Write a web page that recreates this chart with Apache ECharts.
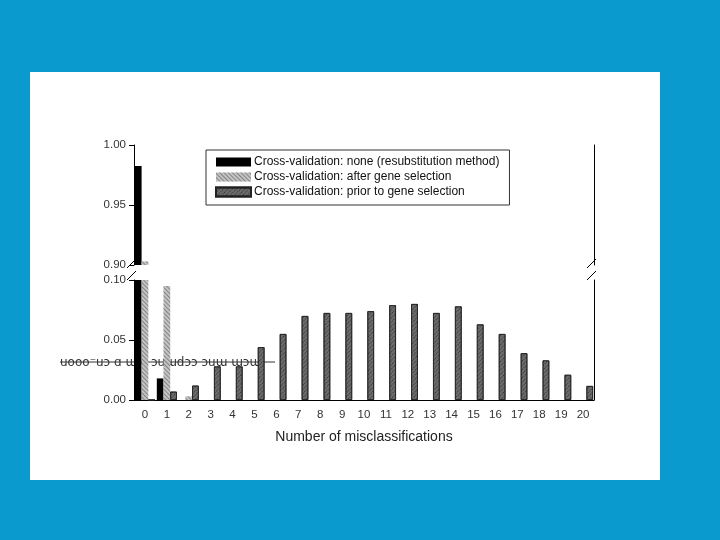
<!DOCTYPE html>
<html>
<head>
<meta charset="utf-8">
<script src="https://cdn.jsdelivr.net/npm/echarts@6/dist/echarts.min.js"></script>
<style>
  html, body { margin: 0; padding: 0; background: #0a9acd; }
  #chart { width: 720px; height: 540px; }
</style>
</head>
<body>
<div id="chart"></div>
<script>
  // number of misclassifications 0..20
  const categories = ['0','1','2','3','4','5','6','7','8','9','10','11','12','13','14','15','16','17','18','19','20'];
  const seriesNames = [
    'Cross-validation: none (resubstitution method)',
    'Cross-validation: after gene selection',
    'Cross-validation: prior to gene selection'
  ];
  const noneCV = [0.9825, 0.018, 0, 0, 0, 0, 0, 0, 0, 0, 0, 0, 0, 0, 0, 0, 0, 0, 0, 0, 0];
  const afterSel = [0.903, 0.095, 0.003, 0, 0, 0, 0, 0, 0, 0, 0, 0, 0, 0, 0, 0, 0, 0, 0, 0, 0];
  const priorSel = [0, 0.007, 0.012, 0.028, 0.028, 0.044, 0.055, 0.070, 0.0725, 0.0725, 0.074, 0.079, 0.080, 0.0725, 0.078, 0.063, 0.055, 0.039, 0.033, 0.021, 0.0117];
  const topTicks = [0.90, 0.95, 1.00];
  const bottomTicks = [0.00, 0.05, 0.10];

  const chart = echarts.init(document.getElementById('chart'));

  const styles = [
    { color: '#000' },
    { color: '#c4c4c4', decal: { symbol: 'rect', symbolSize: 1, dashArrayX: [1, 0], dashArrayY: [1, 2], rotation: Math.PI / 4, color: 'rgba(90,90,90,0.6)' } },
    { color: '#6c6c6c', borderColor: '#222', borderWidth: 0.8, decal: { symbol: 'rect', symbolSize: 1, dashArrayX: [1, 1], dashArrayY: [1, 2], rotation: -Math.PI / 4, color: 'rgba(0,0,0,0.55)' } }
  ];
  const allData = [noneCV, afterSel, priorSel];

  const series = [];
  allData.forEach((vals, i) => {
    // upper panel only shows what is above the break
    series.push({
      name: seriesNames[i], type: 'bar', xAxisIndex: 0, yAxisIndex: 0,
      barWidth: 6.7, barGap: '0%', clip: true, itemStyle: styles[i],
      data: vals.map(v => v >= topTicks[0] ? v : '-')
    });
    series.push({
      name: seriesNames[i], type: 'bar', xAxisIndex: 1, yAxisIndex: 2,
      barWidth: 6.7, barGap: '0%', clip: true, itemStyle: styles[i],
      data: vals
    });
  });

  const axisLbl = { color: '#333', fontSize: 11.5, fontFamily: 'Liberation Sans', margin: 8, formatter: v => v.toFixed(2) };
  const line = { show: true, lineStyle: { color: '#000', width: 1 } };

  const option = {
    backgroundColor: '#0a9acd',
    animation: false,
    legend: {
      data: seriesNames,
      orient: 'vertical',
      left: 206, top: 150,
      padding: [6, 10, 7, 9],
      itemGap: 3, itemWidth: 35, itemHeight: 9,
      icon: 'rect',
      borderColor: '#333', borderWidth: 1,
      backgroundColor: '#fff',
      textStyle: { fontSize: 12, color: '#111', fontFamily: 'Liberation Sans', padding: [0, 0, 0, -2] }
    },
    grid: [
      { left: 134, right: 126, top: 145, height: 120 },
      { left: 134, right: 126, top: 280, height: 120 }
    ],
    xAxis: [
      { type: 'category', gridIndex: 0, data: categories, show: false },
      {
        type: 'category', gridIndex: 1, data: categories,
        axisLine: line,
        axisTick: { alignWithLabel: true, length: 4, lineStyle: { color: '#555' } },
        axisLabel: { color: '#333', fontSize: 11.5, fontFamily: 'Liberation Sans', margin: 9 },
        name: 'Number of misclassifications', nameLocation: 'middle', nameGap: 30,
        nameTextStyle: { fontSize: 14, color: '#222', fontFamily: 'Liberation Sans' }
      }
    ],
    yAxis: [
      { type: 'value', gridIndex: 0, min: 0.9, max: 1.0, interval: 0.05, axisLine: line,
        axisTick: { show: true, length: 5, lineStyle: { color: '#000' } }, splitLine: { show: false }, axisLabel: axisLbl },
      { type: 'value', gridIndex: 0, position: 'right', min: 0.9, max: 1.0, axisLine: line,
        axisTick: { show: false }, axisLabel: { show: false }, splitLine: { show: false } },
      { type: 'value', gridIndex: 1, min: 0, max: 0.1, interval: 0.05, axisLine: line,
        axisTick: { show: true, length: 5, lineStyle: { color: '#000' } }, splitLine: { show: false }, axisLabel: axisLbl },
      { type: 'value', gridIndex: 1, position: 'right', min: 0, max: 0.1, axisLine: line,
        axisTick: { show: false }, axisLabel: { show: false }, splitLine: { show: false } }
    ],
    graphic: [
      // white slide panel
      { type: 'rect', z: -10, shape: { x: 30, y: 72, width: 630, height: 408 }, style: { fill: '#fff' } },
      // axis break marks
      { type: 'line', shape: { x1: 127, y1: 268, x2: 136, y2: 259 }, style: { stroke: '#000', lineWidth: 1 } },
      { type: 'line', shape: { x1: 127, y1: 280, x2: 136, y2: 271 }, style: { stroke: '#000', lineWidth: 1 } },
      { type: 'line', shape: { x1: 587, y1: 268, x2: 596, y2: 259 }, style: { stroke: '#000', lineWidth: 1 } },
      { type: 'line', shape: { x1: 587, y1: 280, x2: 596, y2: 271 }, style: { stroke: '#000', lineWidth: 1 } },
      // stray garbled glyph line from the original slide
      { type: 'line', shape: { x1: 60, y1: 362, x2: 275, y2: 362 }, style: { stroke: '#333', lineWidth: 1 } },
      { type: 'text', left: 60, top: 357, style: { text: 'uooo⁻uɔ ɑ ɯ= ɔuɯdɔɔ ɔuɯ ɯɔɯ', fontSize: 12, fill: '#333', fontFamily: 'DejaVu Sans' } }
    ],
    series: series
  };

  chart.setOption(option);
</script>
</body>
</html>
